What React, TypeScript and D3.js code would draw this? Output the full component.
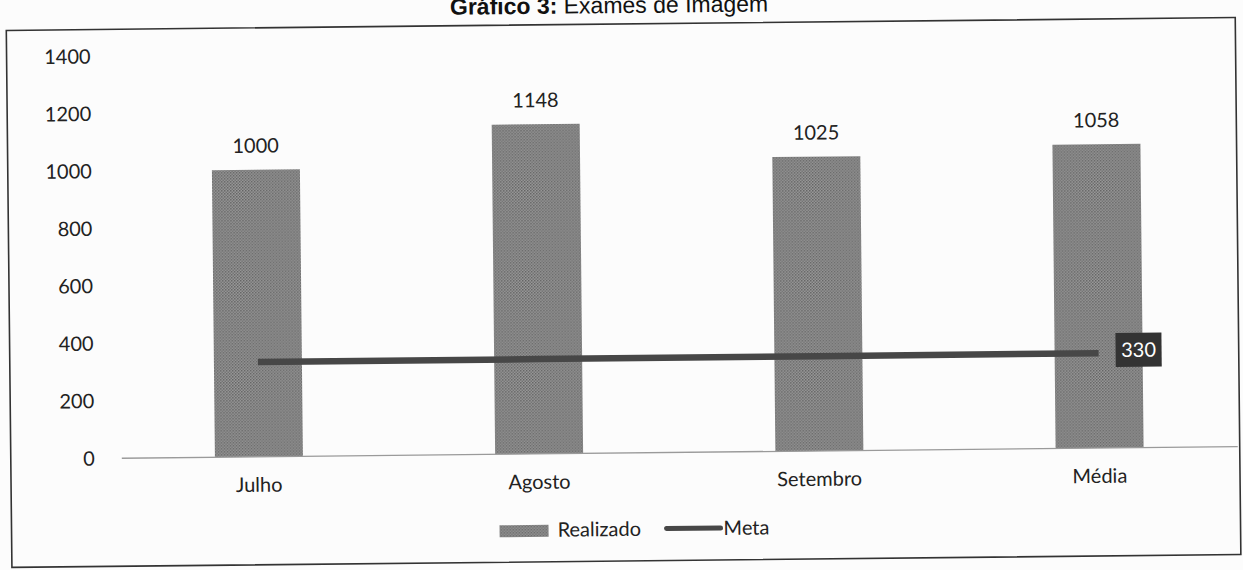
import React from "react";
import * as d3 from "d3";

// values
const categories = ["Julho", "Agosto", "Setembro", "Média"];
const realizado = [1000, 1148, 1025, 1058];
const meta = [330, 330, 330, 330];
const yTicks = [0, 200, 400, 600, 800, 1000, 1200, 1400];

const W = 1243;
const H = 570;
const FONT = "Lato, 'Open Sans', sans-serif";
// the scan is slightly tilted
const TILT = -0.6;

export default function App() {
  const x = d3
    .scaleBand()
    .domain(categories)
    .range([117, 1238])
    .paddingInner(0.686)
    .paddingOuter(0.343);

  const y = d3.scaleLinear().domain([0, 1400]).range([453, 51]);

  const cx = (c) => x(c) + x.bandwidth() / 2;

  const metaLine = d3
    .line()
    .x((d, i) => cx(categories[i]))
    .y((d) => y(d));

  const lastIdx = meta.length - 1;
  const labelX = cx(categories[lastIdx]);
  const labelY = y(meta[lastIdx]);

  return (
    <svg
      width={W}
      height={H}
      style={{ position: "absolute", left: 0, top: 0, background: "#fcfcfc" }}
    >
      <defs>
        <pattern id="dots" width="3" height="3" patternUnits="userSpaceOnUse">
          <rect width="3" height="3" fill="#9a9a9a" />
          <rect width="1.5" height="1.5" fill="#626262" />
          <rect x="1.5" y="1.5" width="1.5" height="1.5" fill="#707070" />
        </pattern>
      </defs>

      <g transform={`rotate(${TILT}, 621, 285)`}>
        {/* title, cut off by the scan */}
        <text
          x={612}
          y={13}
          textAnchor="middle"
          fontFamily="Arial, 'Liberation Sans', sans-serif"
          fontSize={23}
          fill="#111"
        >
          <tspan fontWeight="bold">Gráfico 3:</tspan> Exames de Imagem
        </text>

        {/* chart frame */}
        <rect x={9} y={24} width={1229} height={537} fill="none" stroke="#333" strokeWidth={1.6} />

        {/* y axis labels */}
        {yTicks.map((t) => (
          <text
            key={t}
            x={93}
            y={y(t)}
            dy="0.35em"
            textAnchor="end"
            fontFamily={FONT}
            fontSize={20}
            fill="#222"
          >
            {t}
          </text>
        ))}

        {/* bars */}
        {categories.map((c, i) => (
          <rect
            key={c}
            x={x(c)}
            y={y(realizado[i])}
            width={x.bandwidth()}
            height={y(0) - y(realizado[i])}
            fill="url(#dots)"
          />
        ))}

        {/* baseline */}
        <line x1={120} x2={1236} y1={y(0)} y2={y(0)} stroke="#9a9a9a" strokeWidth={1.3} />

        {/* bar value labels */}
        {categories.map((c, i) => (
          <text
            key={c}
            x={cx(c)}
            y={y(realizado[i]) - 24}
            dy="0.35em"
            textAnchor="middle"
            fontFamily={FONT}
            fontSize={20}
            fill="#222"
          >
            {realizado[i]}
          </text>
        ))}

        {/* meta line */}
        <path d={metaLine(meta)} fill="none" stroke="#474747" strokeWidth={6.5} />

        {/* meta label */}
        <rect x={labelX + 17} y={labelY - 20} width={46} height={34} fill="#333" />
        <text
          x={labelX + 40}
          y={labelY - 3}
          dy="0.35em"
          textAnchor="middle"
          fontFamily={FONT}
          fontSize={20}
          fill="#fff"
        >
          {meta[lastIdx]}
        </text>

        {/* category labels */}
        {categories.map((c) => (
          <text
            key={c}
            x={cx(c)}
            y={481}
            dy="0.35em"
            textAnchor="middle"
            fontFamily={FONT}
            fontSize={20}
            fill="#222"
          >
            {c}
          </text>
        ))}

        {/* legend */}
        <rect x={497} y={524} width={49} height={12} fill="url(#dots)" />
        <text x={555} y={529} dy="0.35em" fontFamily={FONT} fontSize={20} fill="#222">
          Realizado
        </text>
        <line x1={664} x2={718} y1={529} y2={529} stroke="#474747" strokeWidth={5} strokeLinecap="round" />
        <text x={721} y={529} dy="0.35em" fontFamily={FONT} fontSize={20} fill="#222">
          Meta
        </text>
      </g>
    </svg>
  );
}
